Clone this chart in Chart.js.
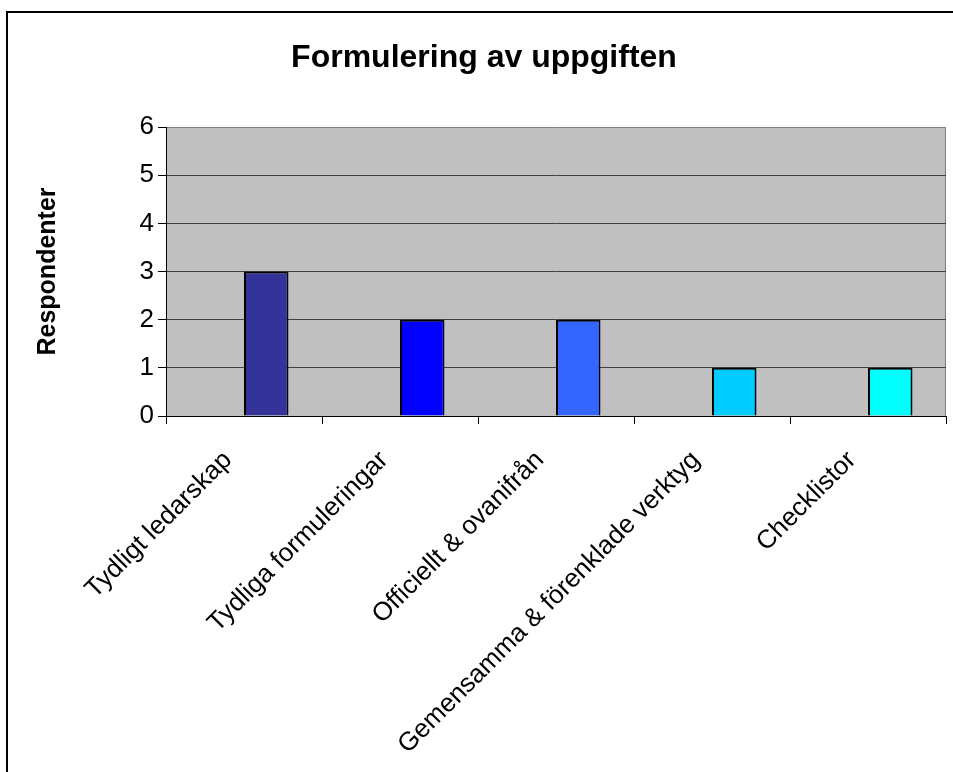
<!DOCTYPE html>
<html>
<head>
<meta charset="utf-8">
<script src="https://cdn.jsdelivr.net/npm/chart.js@4/dist/chart.umd.min.js"></script>
<style>
  html, body { margin: 0; padding: 0; background: #fff; }
  canvas { display: block; }
</style>
</head>
<body>
<canvas id="chart" width="953" height="772"></canvas>
<script>
// Survey answers: how the task is formulated
const categories = [
  'Tydligt ledarskap',
  'Tydliga formuleringar',
  'Officiellt & ovanifrån',
  'Gemensamma & förenklade verktyg',
  'Checklistor'
];
const respondents = [3, 2, 2, 1, 1];
// Second (empty) series of the original sheet, keeps bars right of the category centre
const emptySeries = [null, null, null, null, null];
const barColors = ['#333399', '#0000FF', '#3366FF', '#00CCFF', '#00FFFF'];
const yTicks = [0, 1, 2, 3, 4, 5, 6];

const FONT = "'Liberation Sans', Arial, sans-serif";
Chart.defaults.color = '#000';
Chart.defaults.font.family = FONT;

// Grey plot area, outer frame and plot-area edge
const frame = {
  id: 'frame',
  beforeDraw(chart) {
    const { ctx, chartArea: a } = chart;
    ctx.save();
    ctx.fillStyle = '#fff';
    ctx.fillRect(0, 0, chart.width, chart.height);
    ctx.fillStyle = '#000';
    ctx.fillRect(6, 11, 2, chart.height - 11);
    ctx.fillRect(6, 11, chart.width - 6, 2);
    ctx.fillStyle = '#C0C0C0';
    ctx.fillRect(a.left, a.top, a.right - a.left, a.bottom - a.top);
    ctx.strokeStyle = '#808080';
    ctx.lineWidth = 1;
    ctx.beginPath();
    ctx.moveTo(Math.round(a.right) - 0.5, a.bottom);
    ctx.lineTo(Math.round(a.right) - 0.5, a.top);
    ctx.stroke();
    ctx.restore();
  }
};

new Chart(document.getElementById('chart'), {
  type: 'bar',
  data: {
    labels: categories,
    datasets: [
      {
        label: '',
        data: emptySeries,
        backgroundColor: barColors,
        borderColor: '#000',
        borderWidth: 2
      },
      {
        label: 'Respondenter',
        data: respondents,
        backgroundColor: barColors,
        borderColor: '#000',
        borderWidth: 2
      }
    ]
  },
  options: {
    responsive: false,
    animation: false,
    layout: { padding: { left: 22, right: 7, top: 0, bottom: 0 } },
    categoryPercentage: 0.5705,
    barPercentage: 1,
    plugins: {
      legend: { display: false },
      tooltip: { enabled: false },
      title: {
        display: true,
        text: 'Formulering av uppgiften',
        color: '#000',
        font: { family: FONT, size: 32, weight: 'bold' },
        padding: { top: 39, bottom: 49.6 }
      }
    },
    scales: {
      x: {
        grid: {
          display: true,
          offset: true,
          drawOnChartArea: false,
          drawTicks: true,
          tickLength: 8,
          tickColor: '#000'
        },
        border: { display: true, color: '#000', width: 1 },
        ticks: {
          autoSkip: false,
          minRotation: 45,
          maxRotation: 45,
          padding: 21,
          labelOffset: -16,
          color: '#000',
          font: { family: FONT, size: 26 }
        },
        afterFit(scale) { scale.height = 356; }
      },
      y: {
        min: 0,
        max: 6,
        afterBuildTicks(scale) { scale.ticks = yTicks.map(v => ({ value: v })); },
        grid: {
          color: (c) => (c.tick && c.tick.value === 6 ? '#808080' : '#404040'),
          lineWidth: 1,
          drawTicks: true,
          tickLength: 8,
          tickColor: '#000'
        },
        border: { display: true, color: '#000', width: 1 },
        ticks: {
          padding: 4,
          color: '#000',
          font: { family: FONT, size: 26 }
        },
        title: {
          display: true,
          text: 'Respondenter',
          color: '#000',
          font: { family: FONT, size: 25, weight: 'bold' },
          padding: { top: 11, bottom: 0 }
        },
        afterFit(scale) { scale.width = 144; }
      }
    }
  },
  plugins: [frame]
});
</script>
</body>
</html>
